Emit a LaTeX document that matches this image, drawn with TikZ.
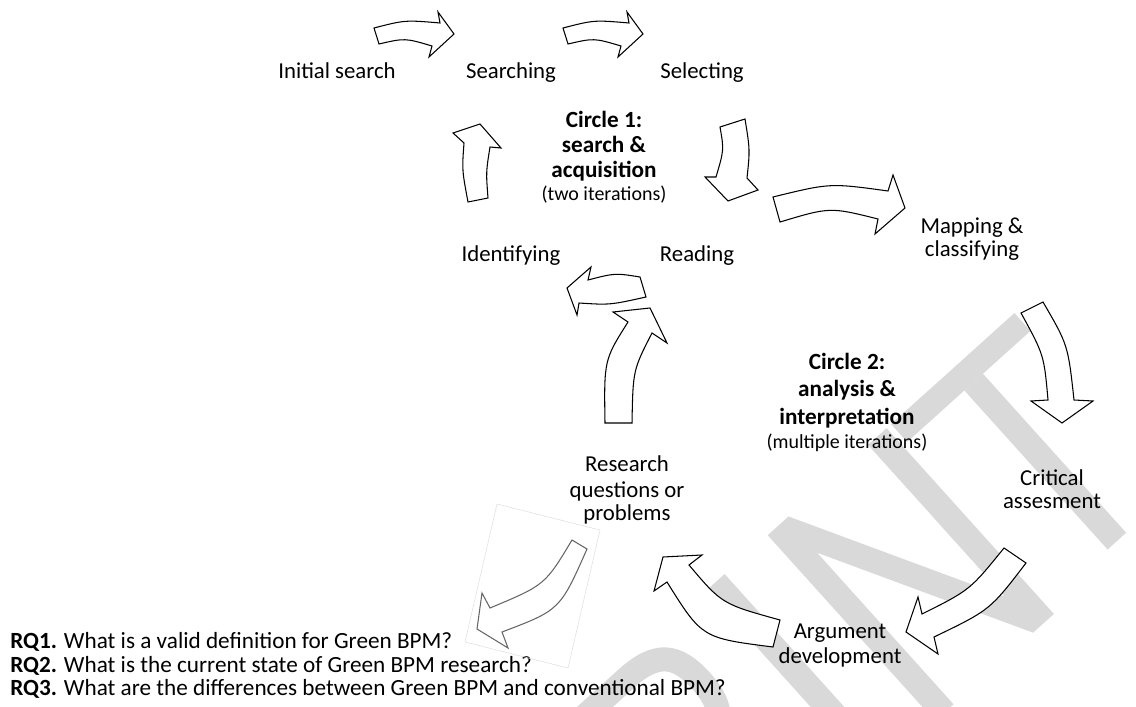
\documentclass[tikz,border=0pt]{standalone}
\usepackage{fontspec}
\setmainfont{Carlito}
\tikzset{
  lbl/.style={anchor=base, inner sep=0pt, font=\fontsize{16.2}{17.5}\selectfont},
  ttl/.style={anchor=base, inner sep=0pt, font=\fontsize{16.5}{19.9}\selectfont\bfseries},
  sub/.style={anchor=base, inner sep=0pt, font=\fontsize{14.2}{16}\selectfont},
  rql/.style={anchor=base west, inner sep=0pt, font=\fontsize{16.5}{18}\selectfont},
  blk/.style={draw=black, fill=white, line width=0.75pt},
  gblk/.style={blk, draw=black!60},
  wm/.style={fill=black!15},
  wml/.style={draw=black!15, line width=0.6cm}
}
\begin{document}
\begin{tikzpicture}[x=0.025cm, y=-0.025cm]
\useasboundingbox (0,0) rectangle (1136,707);
% watermark letters
\begin{scope}
\clip (0,0) rectangle (1136,707);
\begin{scope}[shift={(935,721)}, rotate=42]
\fill[wm] (-285,0) rectangle (-260,-250);
\draw[wml] (-272,-238) -- (-200,-238) .. controls (-160,-238) and (-147,-222) .. (-147,-186) .. controls (-147,-150) and (-162,-134) .. (-200,-134) -- (-272,-134);
\draw[wml] (-205,-134) -- (-140,0);
\fill[wm] (-83,0) rectangle (-58,-250);
\fill[wm] (0,0) -- (0,-250) -- (28,-250) -- (135,-46) -- (135,-250) -- (160,-250) -- (160,0) -- (132,0) -- (25,-204) -- (25,0) -- cycle;
\fill[wm] (166,-226) rectangle (332,-250);
\fill[wm] (243,-12) rectangle (268,-226);
\end{scope}
\end{scope}
% labels
\node[lbl] (init) at (337,79) {Initial search};
\node[lbl] (srch) at (511,79) {Searching};
\node[lbl] (sel) at (702,79) {Selecting};
\node[ttl] (c1a) at (604,128) {Circle 1:};
\node[ttl] (c1b) at (604,153) {search \&};
\node[ttl] (c1c) at (604,178) {acquisition};
\node[sub] (c1d) at (604,201) {(two iterations)};
\node[lbl] (ident) at (511,262) {Identifying};
\node[lbl] (read) at (697,262) {Reading};
\node[lbl] (mapa) at (972,234) {Mapping \&};
\node[lbl] (mapb) at (972,257) {classifying};
\node[ttl] (c2a) at (847,370) {Circle 2:};
\node[ttl] (c2b) at (847,397) {analysis \&};
\node[ttl] (c2c) at (847,425) {interpretation};
\node[sub] (c2d) at (847,449) {(multiple iterations)};
\node[lbl] (rqa) at (627,472) {Research};
\node[lbl] (rqb) at (627,497) {questions or};
\node[lbl] (rqc) at (627,520) {problems};
\node[lbl] (crita) at (1052,485) {Critical};
\node[lbl] (critb) at (1052,508) {assesment};
\node[lbl] (arga) at (840,638) {Argument};
\node[lbl] (argb) at (840,663) {development};
\node[rql] (rq1) at (10,648) {\textbf{RQ1.} What is a valid definition for Green BPM?};
\node[rql] (rq2) at (10,672) {\textbf{RQ2.} What is the current state of Green BPM research?};
\node[rql] (rq3) at (10,695) {\textbf{RQ3.} What are the differences between Green BPM and conventional BPM?};
% circle 1 arrows
\draw[blk] (374,28) .. controls (405,20) .. (440,23) -- (438,12) -- (454,34) -- (429,57) -- (432,46) .. controls (405,38) .. (379,44) -- cycle;
\draw[blk] (563,28) .. controls (594,20) .. (629,23) -- (627,12) -- (643,34) -- (618,57) -- (621,46) .. controls (594,38) .. (568,44) -- cycle;
\draw[blk] (720,127) -- (745,119) .. controls (750,150) .. (747,178) -- (758,190) -- (728,201) -- (705,177) -- (716,177) .. controls (724,150) .. (720,127) -- cycle;
\draw[blk] (640,277) -- (646,297) .. controls (610,305) .. (579,303) -- (577,315) -- (567,288) -- (591,267) -- (588,280) .. controls (615,273) .. (640,277) -- cycle;
\draw[blk] (468,202) .. controls (462,170) .. (464,143) -- (453,133) -- (480,124) -- (501,148) -- (490,147) .. controls (486,172) .. (488,198) -- cycle;
% circle 2 arrows
\draw[blk] (773,197) .. controls (830,183) .. (888,191) -- (893,175) -- (905,208) -- (875,234) -- (878,219) .. controls (830,207) .. (780,222) -- cycle;
\draw[blk] (1021,313) -- (1043,302) .. controls (1068,345) .. (1074,400) -- (1093,401) -- (1062,423) -- (1031,401) -- (1048,400) .. controls (1044,355) .. (1021,313) -- cycle;
\draw[blk] (1004,548) -- (1026,563) .. controls (990,610) .. (934,637) -- (938,654) -- (906,632) -- (918,597) -- (922,614) .. controls (970,590) .. (1004,548) -- cycle;
\draw[blk] (780,620) -- (773,647) .. controls (702,638) .. (667,582) -- (654,591) -- (663,557) -- (702,555) -- (689,565) .. controls (722,604) .. (780,620) -- cycle;
\draw[blk] (605,423) .. controls (604,360) .. (628,322) -- (613,312) -- (650,308) -- (667,343) -- (652,333) .. controls (633,370) .. (632,423) -- cycle;
% to the questions
\draw[black!12, line width=0.4pt] (465,642) -- (568,668) -- (600,530) -- (497,504) -- cycle;
\draw[gblk] (572,540) -- (587,549) .. controls (560,610) .. (502,632) -- (508,648) -- (477,629) -- (482,593) -- (490,608) .. controls (545,585) .. (572,540) -- cycle;
\end{tikzpicture}
\end{document}
